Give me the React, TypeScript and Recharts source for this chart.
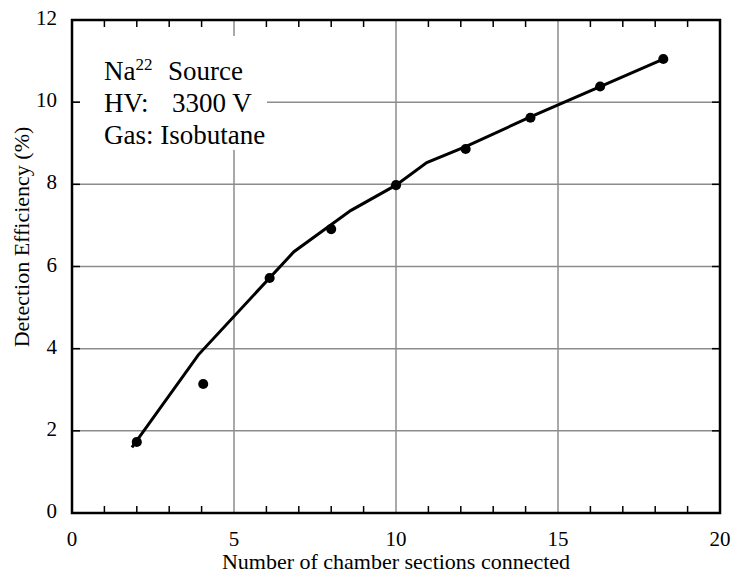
import {
  ComposedChart,
  Line,
  Scatter,
  XAxis,
  YAxis,
  ZAxis,
  ReferenceLine,
} from 'recharts';

// measured detection efficiency vs. number of chamber sections
const sectionsMeasured = [2.0, 4.05, 6.1, 8.0, 10.0, 12.15, 14.15, 16.3, 18.25];
const efficiencyMeasured = [1.73, 3.14, 5.72, 6.91, 7.98, 8.86, 9.62, 10.38, 11.05];

// hand-drawn trend curve
const sectionsCurve = [1.85, 3.9, 6.85, 8.6, 10.0, 10.95, 12.15, 14.15, 16.3, 18.25];
const efficiencyCurve = [1.6, 3.85, 6.36, 7.36, 7.98, 8.53, 8.92, 9.64, 10.38, 11.05];

const xTicks = [0, 1, 2, 3, 4, 5, 6, 7, 8, 9, 10, 11, 12, 13, 14, 15, 16, 17, 18, 19, 20];
const yTicks = [0, 2, 4, 6, 8, 10, 12];
const xGrid = [5, 10, 15];
const yGrid = [2, 4, 6, 8, 10];

const measured = sectionsMeasured.map((x, i) => ({ x, y: efficiencyMeasured[i] }));
const curve = sectionsCurve.map((x, i) => ({ x, y: efficiencyCurve[i] }));

const FONT = '"Liberation Serif", "Times New Roman", serif';

const W = 733;
const H = 575;
const MARGIN = { top: 20, right: 13, bottom: 0, left: 0 };
const Y_AXIS_W = 72;
const X_AXIS_H = 62;
const PLOT_X = MARGIN.left + Y_AXIS_W;
const PLOT_Y = MARGIN.top;
const PLOT_W = W - MARGIN.left - MARGIN.right - Y_AXIS_W;
const PLOT_H = H - MARGIN.top - MARGIN.bottom - X_AXIS_H;

const BottomTick = ({ x, y, payload }: any) => {
  const v = payload.value;
  const major = v % 5 === 0;
  return (
    <g>
      {!major && <line x1={x} y1={y} x2={x} y2={y - 7} stroke="#000" strokeWidth={1.5} />}
      {major && (
        <text x={x} y={y + 33} textAnchor="middle" fontFamily={FONT} fontSize={21} fill="#000">
          {v}
        </text>
      )}
    </g>
  );
};

const LeftTick = ({ x, y, payload }: any) => {
  const v = payload.value;
  return (
    <g>
      {v > 0 && v < 12 && <line x1={x} y1={y} x2={x + 8} y2={y} stroke="#000" strokeWidth={1.5} />}
      <text x={x - 15} y={y + 5} textAnchor="end" fontFamily={FONT} fontSize={21} fill="#000">
        {v}
      </text>
    </g>
  );
};

// mirrored ticks on the top and right edges of the frame
const topTickX = xTicks.filter((v) => v % 5 !== 0).map((v) => PLOT_X + (v / 20) * PLOT_W);
const rightTickY = yTicks.filter((v) => v > 0 && v < 12).map((v) => PLOT_Y + PLOT_H - (v / 12) * PLOT_H);

export default function App() {
  return (
    <div style={{ position: 'absolute', left: 0, top: 0, width: W, height: H, background: '#fff' }}>
      <ComposedChart width={W} height={H} margin={MARGIN}>
        <XAxis
          type="number"
          dataKey="x"
          domain={[0, 20]}
          ticks={xTicks}
          interval={0}
          height={X_AXIS_H}
          tickSize={0}
          tickMargin={0}
          tickLine={false}
          axisLine={{ stroke: '#000', strokeWidth: 2 }}
          tick={<BottomTick />}
        />
        <YAxis
          type="number"
          dataKey="y"
          domain={[0, 12]}
          ticks={yTicks}
          interval={0}
          width={Y_AXIS_W}
          tickSize={0}
          tickMargin={0}
          tickLine={false}
          axisLine={{ stroke: '#000', strokeWidth: 2 }}
          tick={<LeftTick />}
        />
        <ZAxis range={[80, 80]} />
        {xGrid.map((v) => (
          <ReferenceLine key={`gx${v}`} x={v} stroke="#8c8c8c" strokeWidth={1.5} />
        ))}
        {yGrid.map((v) => (
          <ReferenceLine key={`gy${v}`} y={v} stroke="#8c8c8c" strokeWidth={1.5} />
        ))}
        <Line
          data={curve}
          dataKey="y"
          type="linear"
          stroke="#000"
          strokeWidth={3}
          dot={false}
          activeDot={false}
          isAnimationActive={false}
        />
        <Scatter data={measured} dataKey="y" fill="#000" isAnimationActive={false} />
      </ComposedChart>

      <svg
        width={W}
        height={H}
        style={{ position: 'absolute', left: 0, top: 0, pointerEvents: 'none' }}
        fontFamily={FONT}
        fill="#000"
      >
        <rect x={PLOT_X} y={PLOT_Y} width={PLOT_W} height={PLOT_H} fill="none" stroke="#000" strokeWidth={2.5} />
        {topTickX.map((x) => (
          <line key={`tt${x}`} x1={x} y1={PLOT_Y} x2={x} y2={PLOT_Y + 7} stroke="#000" strokeWidth={1.5} />
        ))}
        {rightTickY.map((y) => (
          <line key={`rt${y}`} x1={PLOT_X + PLOT_W} y1={y} x2={PLOT_X + PLOT_W - 8} y2={y} stroke="#000" strokeWidth={1.5} />
        ))}

        <rect x={80} y={36} width={187} height={114} fill="#fff" />
        <text x={104} y={80} fontSize={27}>
          Na
          <tspan dy={-10} fontSize={17}>22</tspan>
        </text>
        <text x={168} y={80} fontSize={27}>Source</text>
        <text x={104} y={112} fontSize={27}>HV:</text>
        <text x={172} y={112} fontSize={27}>3300 V</text>
        <text x={104} y={144} fontSize={27}>Gas: Isobutane</text>

        <text x={396} y={569} textAnchor="middle" fontSize={22}>
          Number of chamber sections connected
        </text>
        <text x={29} y={237} textAnchor="middle" fontSize={22} transform="rotate(-90 29 237)">
          Detection Efficiency (%)
        </text>
      </svg>
    </div>
  );
}
